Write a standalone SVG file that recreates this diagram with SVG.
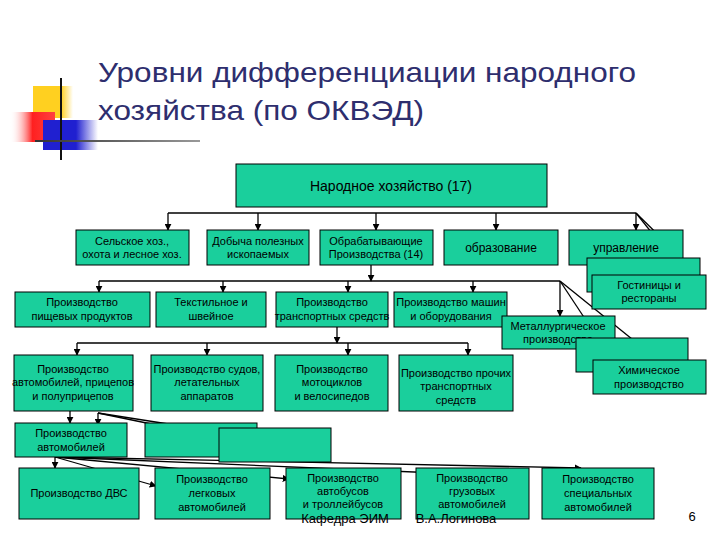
<svg xmlns="http://www.w3.org/2000/svg" width="720" height="540" viewBox="0 0 720 540">
<style>
.b{fill:#1ACF9C;stroke:#000;stroke-width:1}
text{font-family:"Liberation Sans",Arial,sans-serif;font-size:11px;text-anchor:middle;fill:#000}
.c line,.c path{stroke:#000;stroke-width:1.3;fill:none}
.a{marker-end:url(#ah)}
.t{font-size:28px;text-anchor:start;fill:#2E2E6E}
</style>
<defs>
<marker id="ah" viewBox="0 0 10 10" refX="9" refY="5" markerWidth="7" markerHeight="7" orient="auto" markerUnits="userSpaceOnUse"><path d="M0,0L10,5L0,10z" fill="#000"/></marker>
<linearGradient id="rg" x1="0" x2="1"><stop offset="0" stop-color="#fff" stop-opacity="0"/><stop offset="0.5" stop-color="#ff2020"/><stop offset="1" stop-color="#ff4040"/></linearGradient>
<linearGradient id="bg" x1="0" x2="1"><stop offset="0.6" stop-color="#2020d0"/><stop offset="1" stop-color="#2020d0" stop-opacity="0"/></linearGradient>
<linearGradient id="yg" x1="0" x2="1"><stop offset="0.7" stop-color="#ffd020"/><stop offset="1" stop-color="#ffd020" stop-opacity="0"/></linearGradient>
<linearGradient id="lg" x1="0" x2="1"><stop offset="0" stop-color="#333"/><stop offset="1" stop-color="#999"/></linearGradient>
</defs>
<rect width="720" height="540" fill="#fff"/>
<g id="logo">
<rect x="33" y="86" width="40" height="32" fill="url(#yg)"/>
<rect x="10" y="112" width="45" height="30" fill="url(#rg)"/>
<rect x="43" y="120" width="55" height="30" fill="url(#bg)"/>
<line x1="61" y1="78" x2="61" y2="160" stroke="#111" stroke-width="2"/>
<rect x="35" y="140" width="165" height="2" fill="url(#lg)"/>
</g>
<g id="title">
<text class="t" x="98" y="82" textLength="538" lengthAdjust="spacingAndGlyphs">Уровни дифференциации народного</text>
<text class="t" x="98" y="120" textLength="326" lengthAdjust="spacingAndGlyphs">хозяйства (по ОКВЭД)</text>
</g>
<g class="c" id="connectors">
<line x1="168" y1="213" x2="636" y2="213"/>
<line class="a" x1="168" y1="213" x2="168" y2="230"/>
<line class="a" x1="258" y1="213" x2="258" y2="230"/>
<line class="a" x1="376" y1="213" x2="376" y2="230"/>
<line class="a" x1="496" y1="213" x2="496" y2="230"/>
<line class="a" x1="636" y1="213" x2="636" y2="230"/>
<line class="a" x1="636" y1="213" x2="675" y2="262"/>
<line class="a" x1="636" y1="213" x2="699" y2="275"/>
<line class="a" x1="371" y1="265" x2="371" y2="281"/>
<line x1="99" y1="281" x2="560" y2="281"/>
<line class="a" x1="99" y1="281" x2="99" y2="292"/>
<line class="a" x1="223" y1="281" x2="223" y2="292"/>
<line class="a" x1="348" y1="281" x2="348" y2="292"/>
<line class="a" x1="473" y1="281" x2="473" y2="292"/>
<line class="a" x1="560" y1="281" x2="560" y2="316"/>
<line class="a" x1="560" y1="281" x2="597" y2="337"/>
<line class="a" x1="560" y1="281" x2="658" y2="360"/>
<line class="a" x1="337" y1="327" x2="337" y2="343"/>
<line x1="77" y1="343" x2="468" y2="343"/>
<line class="a" x1="77" y1="343" x2="77" y2="355"/>
<line class="a" x1="207" y1="343" x2="207" y2="355"/>
<line class="a" x1="348" y1="343" x2="348" y2="355"/>
<line class="a" x1="468" y1="343" x2="468" y2="355"/>
<line class="a" x1="70" y1="411" x2="70" y2="423"/>
<line class="a" x1="98" y1="413" x2="98" y2="425"/>
<line class="a" x1="98" y1="413" x2="195" y2="433"/>
<line class="a" x1="98" y1="413" x2="245" y2="436"/>
<line class="a" x1="55" y1="457" x2="55" y2="468"/>
<line class="a" x1="55" y1="457" x2="156" y2="486"/>
<line class="a" x1="55" y1="457" x2="289" y2="479"/>
<line class="a" x1="55" y1="457" x2="438" y2="473"/>
<line class="a" x1="55" y1="457" x2="581" y2="468"/>
</g>
<g id="root"><rect class="b" x="236" y="164" width="311" height="43"/><text x="391" y="191" style="font-size:14px">Народное хозяйство (17)</text></g>
<g id="n1"><rect class="b" x="76" y="230" width="113" height="35"/><text x="132" y="245">Сельское хоз.,</text><text x="132" y="258">охота и лесное хоз.</text></g>
<g id="n2"><rect class="b" x="207" y="230" width="102" height="35"/><text x="258" y="245">Добыча полезных</text><text x="258" y="258">ископаемых</text></g>
<g id="n3"><rect class="b" x="320" y="230" width="113" height="35"/><text x="376" y="245">Обрабатывающие</text><text x="376" y="258">Производства (14)</text></g>
<g id="n4"><rect class="b" x="444" y="230" width="114" height="35"/><text x="501" y="252" style="font-size:12px">образование</text></g>
<g id="n5"><rect class="b" x="569" y="230" width="114" height="35"/><text x="626" y="252" style="font-size:12px">управление</text></g>
<g id="n5s"><rect class="b" x="587" y="258" width="113" height="34"/></g>
<g id="n6"><rect class="b" x="592" y="275" width="114" height="34"/><text x="649" y="289">Гостиницы и</text><text x="649" y="302">рестораны</text></g>
<g id="m1"><rect class="b" x="15" y="292" width="135" height="35"/><text x="82" y="306">Производство</text><text x="82" y="320">пищевых продуктов</text></g>
<g id="m2"><rect class="b" x="156" y="292" width="110" height="35"/><text x="211" y="306">Текстильное и</text><text x="211" y="320">швейное</text></g>
<g id="m3"><rect class="b" x="276" y="292" width="112" height="35"/><text x="332" y="306">Производство</text><text x="332" y="320">транспортных средств</text></g>
<g id="m4"><rect class="b" x="394" y="292" width="113" height="35"/><text x="451" y="306">Производство машин</text><text x="451" y="320">и оборудования</text></g>
<g id="m5"><rect class="b" x="502" y="316" width="113" height="33"/><text x="558" y="330">Металлургическое</text><text x="558" y="343">производство</text></g>
<g id="m6s"><rect class="b" x="576" y="338" width="112" height="34"/></g>
<g id="m6"><rect class="b" x="593" y="360" width="113" height="34"/><text x="649" y="374">Химическое</text><text x="649" y="388">производство</text></g>
<g id="t1"><rect class="b" x="14" y="355" width="119" height="56"/><text x="73" y="373">Производство</text><text x="73" y="386">автомобилей, прицепов</text><text x="73" y="400">и полуприцепов</text></g>
<g id="t2"><rect class="b" x="151" y="355" width="112" height="56"/><text x="207" y="373">Производство судов,</text><text x="207" y="386">летательных</text><text x="207" y="400">аппаратов</text></g>
<g id="t3"><rect class="b" x="275" y="355" width="113" height="56"/><text x="332" y="373">Производство</text><text x="332" y="386">мотоциклов</text><text x="332" y="400">и велосипедов</text></g>
<g id="t4"><rect class="b" x="399" y="355" width="114" height="56"/><text x="456" y="377">Производство прочих</text><text x="456" y="390">транспортных</text><text x="456" y="404">средств</text></g>
<g id="a1"><rect class="b" x="15" y="423" width="112" height="34"/><text x="71" y="437">Производство</text><text x="71" y="451">автомобилей</text></g>
<g id="a2"><rect class="b" x="145" y="423" width="112" height="34"/></g>
<g id="a3"><rect class="b" x="219" y="428" width="112" height="34"/></g>
<g id="v1"><rect class="b" x="19" y="468" width="120" height="51"/><text x="79" y="497">Производство ДВС</text></g>
<g id="v2"><rect class="b" x="155" y="468" width="115" height="51"/><text x="212" y="483">Производство</text><text x="212" y="497">легковых</text><text x="212" y="511">автомобилей</text></g>
<g id="v3"><rect class="b" x="286" y="468" width="115" height="51"/><text x="343" y="482">Производство</text><text x="343" y="495">автобусов</text><text x="343" y="508">и троллейбусов</text></g>
<g id="v4"><rect class="b" x="416" y="468" width="113" height="51"/><text x="472" y="482">Производство</text><text x="472" y="495">грузовых</text><text x="472" y="508">автомобилей</text></g>
<g id="v5"><rect class="b" x="542" y="468" width="112" height="51"/><text x="598" y="483">Производство</text><text x="598" y="497">специальных</text><text x="598" y="511">автомобилей</text></g>
<g id="footer">
<text x="345" y="523" style="font-size:13px">Кафедра ЭИМ</text>
<text x="456" y="523" style="font-size:13px">В.А.Логинова</text>
<text x="692" y="521" style="font-size:13px">6</text>
</g>
</svg>
